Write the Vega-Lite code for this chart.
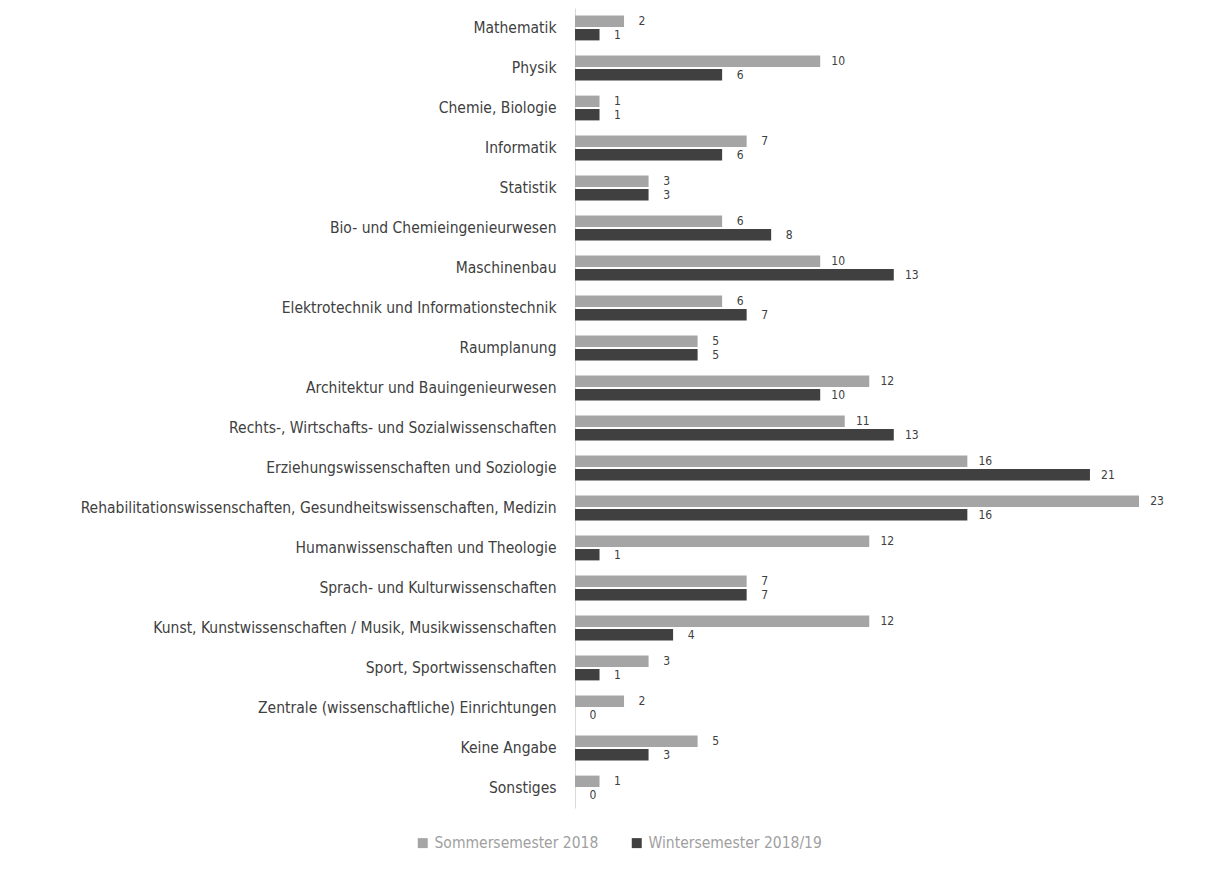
{
  "$schema": "https://vega.github.io/schema/vega-lite/v6.json",
  "width": 564,
  "height": 800,
  "autosize": {"type": "none"},
  "padding": {"left": 575, "top": 8, "right": 72, "bottom": 66},
  "background": "white",
  "config": {"view": {"stroke": null}, "font": "DejaVu Sans Condensed"},
  "data": {"values": [
    {"fach": "Mathematik", "semester": "Sommersemester 2018", "anzahl": 2},
    {"fach": "Mathematik", "semester": "Wintersemester 2018/19", "anzahl": 1},
    {"fach": "Physik", "semester": "Sommersemester 2018", "anzahl": 10},
    {"fach": "Physik", "semester": "Wintersemester 2018/19", "anzahl": 6},
    {"fach": "Chemie, Biologie", "semester": "Sommersemester 2018", "anzahl": 1},
    {"fach": "Chemie, Biologie", "semester": "Wintersemester 2018/19", "anzahl": 1},
    {"fach": "Informatik", "semester": "Sommersemester 2018", "anzahl": 7},
    {"fach": "Informatik", "semester": "Wintersemester 2018/19", "anzahl": 6},
    {"fach": "Statistik", "semester": "Sommersemester 2018", "anzahl": 3},
    {"fach": "Statistik", "semester": "Wintersemester 2018/19", "anzahl": 3},
    {"fach": "Bio- und Chemieingenieurwesen", "semester": "Sommersemester 2018", "anzahl": 6},
    {"fach": "Bio- und Chemieingenieurwesen", "semester": "Wintersemester 2018/19", "anzahl": 8},
    {"fach": "Maschinenbau", "semester": "Sommersemester 2018", "anzahl": 10},
    {"fach": "Maschinenbau", "semester": "Wintersemester 2018/19", "anzahl": 13},
    {"fach": "Elektrotechnik und Informationstechnik", "semester": "Sommersemester 2018", "anzahl": 6},
    {"fach": "Elektrotechnik und Informationstechnik", "semester": "Wintersemester 2018/19", "anzahl": 7},
    {"fach": "Raumplanung", "semester": "Sommersemester 2018", "anzahl": 5},
    {"fach": "Raumplanung", "semester": "Wintersemester 2018/19", "anzahl": 5},
    {"fach": "Architektur und Bauingenieurwesen", "semester": "Sommersemester 2018", "anzahl": 12},
    {"fach": "Architektur und Bauingenieurwesen", "semester": "Wintersemester 2018/19", "anzahl": 10},
    {"fach": "Rechts-, Wirtschafts- und Sozialwissenschaften", "semester": "Sommersemester 2018", "anzahl": 11},
    {"fach": "Rechts-, Wirtschafts- und Sozialwissenschaften", "semester": "Wintersemester 2018/19", "anzahl": 13},
    {"fach": "Erziehungswissenschaften und Soziologie", "semester": "Sommersemester 2018", "anzahl": 16},
    {"fach": "Erziehungswissenschaften und Soziologie", "semester": "Wintersemester 2018/19", "anzahl": 21},
    {"fach": "Rehabilitationswissenschaften, Gesundheitswissenschaften, Medizin", "semester": "Sommersemester 2018", "anzahl": 23},
    {"fach": "Rehabilitationswissenschaften, Gesundheitswissenschaften, Medizin", "semester": "Wintersemester 2018/19", "anzahl": 16},
    {"fach": "Humanwissenschaften und Theologie", "semester": "Sommersemester 2018", "anzahl": 12},
    {"fach": "Humanwissenschaften und Theologie", "semester": "Wintersemester 2018/19", "anzahl": 1},
    {"fach": "Sprach- und Kulturwissenschaften", "semester": "Sommersemester 2018", "anzahl": 7},
    {"fach": "Sprach- und Kulturwissenschaften", "semester": "Wintersemester 2018/19", "anzahl": 7},
    {"fach": "Kunst, Kunstwissenschaften / Musik, Musikwissenschaften", "semester": "Sommersemester 2018", "anzahl": 12},
    {"fach": "Kunst, Kunstwissenschaften / Musik, Musikwissenschaften", "semester": "Wintersemester 2018/19", "anzahl": 4},
    {"fach": "Sport, Sportwissenschaften", "semester": "Sommersemester 2018", "anzahl": 3},
    {"fach": "Sport, Sportwissenschaften", "semester": "Wintersemester 2018/19", "anzahl": 1},
    {"fach": "Zentrale (wissenschaftliche) Einrichtungen", "semester": "Sommersemester 2018", "anzahl": 2},
    {"fach": "Zentrale (wissenschaftliche) Einrichtungen", "semester": "Wintersemester 2018/19", "anzahl": 0},
    {"fach": "Keine Angabe", "semester": "Sommersemester 2018", "anzahl": 5},
    {"fach": "Keine Angabe", "semester": "Wintersemester 2018/19", "anzahl": 3},
    {"fach": "Sonstiges", "semester": "Sommersemester 2018", "anzahl": 1},
    {"fach": "Sonstiges", "semester": "Wintersemester 2018/19", "anzahl": 0}
  ]},
  "encoding": {
    "y": {
      "field": "fach", "type": "nominal", "sort": null, "title": null,
      "scale": {"paddingInner": 0.38, "paddingOuter": 0.19},
      "axis": {
        "ticks": false, "domainColor": "#d9d9d9", "domainWidth": 1,
        "labelFont": "DejaVu Sans Condensed", "labelFontSize": 15.5, "labelColor": "#404040",
        "labelPadding": 19, "labelLimit": 600
      }
    },
    "yOffset": {"field": "semester", "type": "nominal", "scale": {"paddingInner": 0.15}},
    "x": {
      "field": "anzahl", "type": "quantitative", "title": null,
      "scale": {"domain": [0, 23], "nice": false},
      "axis": null
    }
  },
  "layer": [
    {
      "mark": {"type": "bar"},
      "encoding": {
        "color": {
          "field": "semester", "type": "nominal", "title": null,
          "scale": {"domain": ["Sommersemester 2018", "Wintersemester 2018/19"], "range": ["#a5a5a5", "#404040"]},
          "legend": {
            "orient": "none", "direction": "horizontal", "legendX": -160, "legendY": 827,
            "symbolType": "square", "symbolSize": 100, "symbolStrokeWidth": 0,
            "labelFont": "DejaVu Sans Condensed", "labelFontSize": 15.5, "labelColor": "#a0a0a0",
            "labelLimit": 400, "columnPadding": 30, "labelOffset": 4
          }
        }
      }
    },
    {
      "mark": {"type": "text", "align": "center", "dx": 18, "font": "DejaVu Sans Condensed", "fontSize": 12, "color": "#404040"},
      "encoding": {"text": {"field": "anzahl", "type": "quantitative"}}
    }
  ]
}
